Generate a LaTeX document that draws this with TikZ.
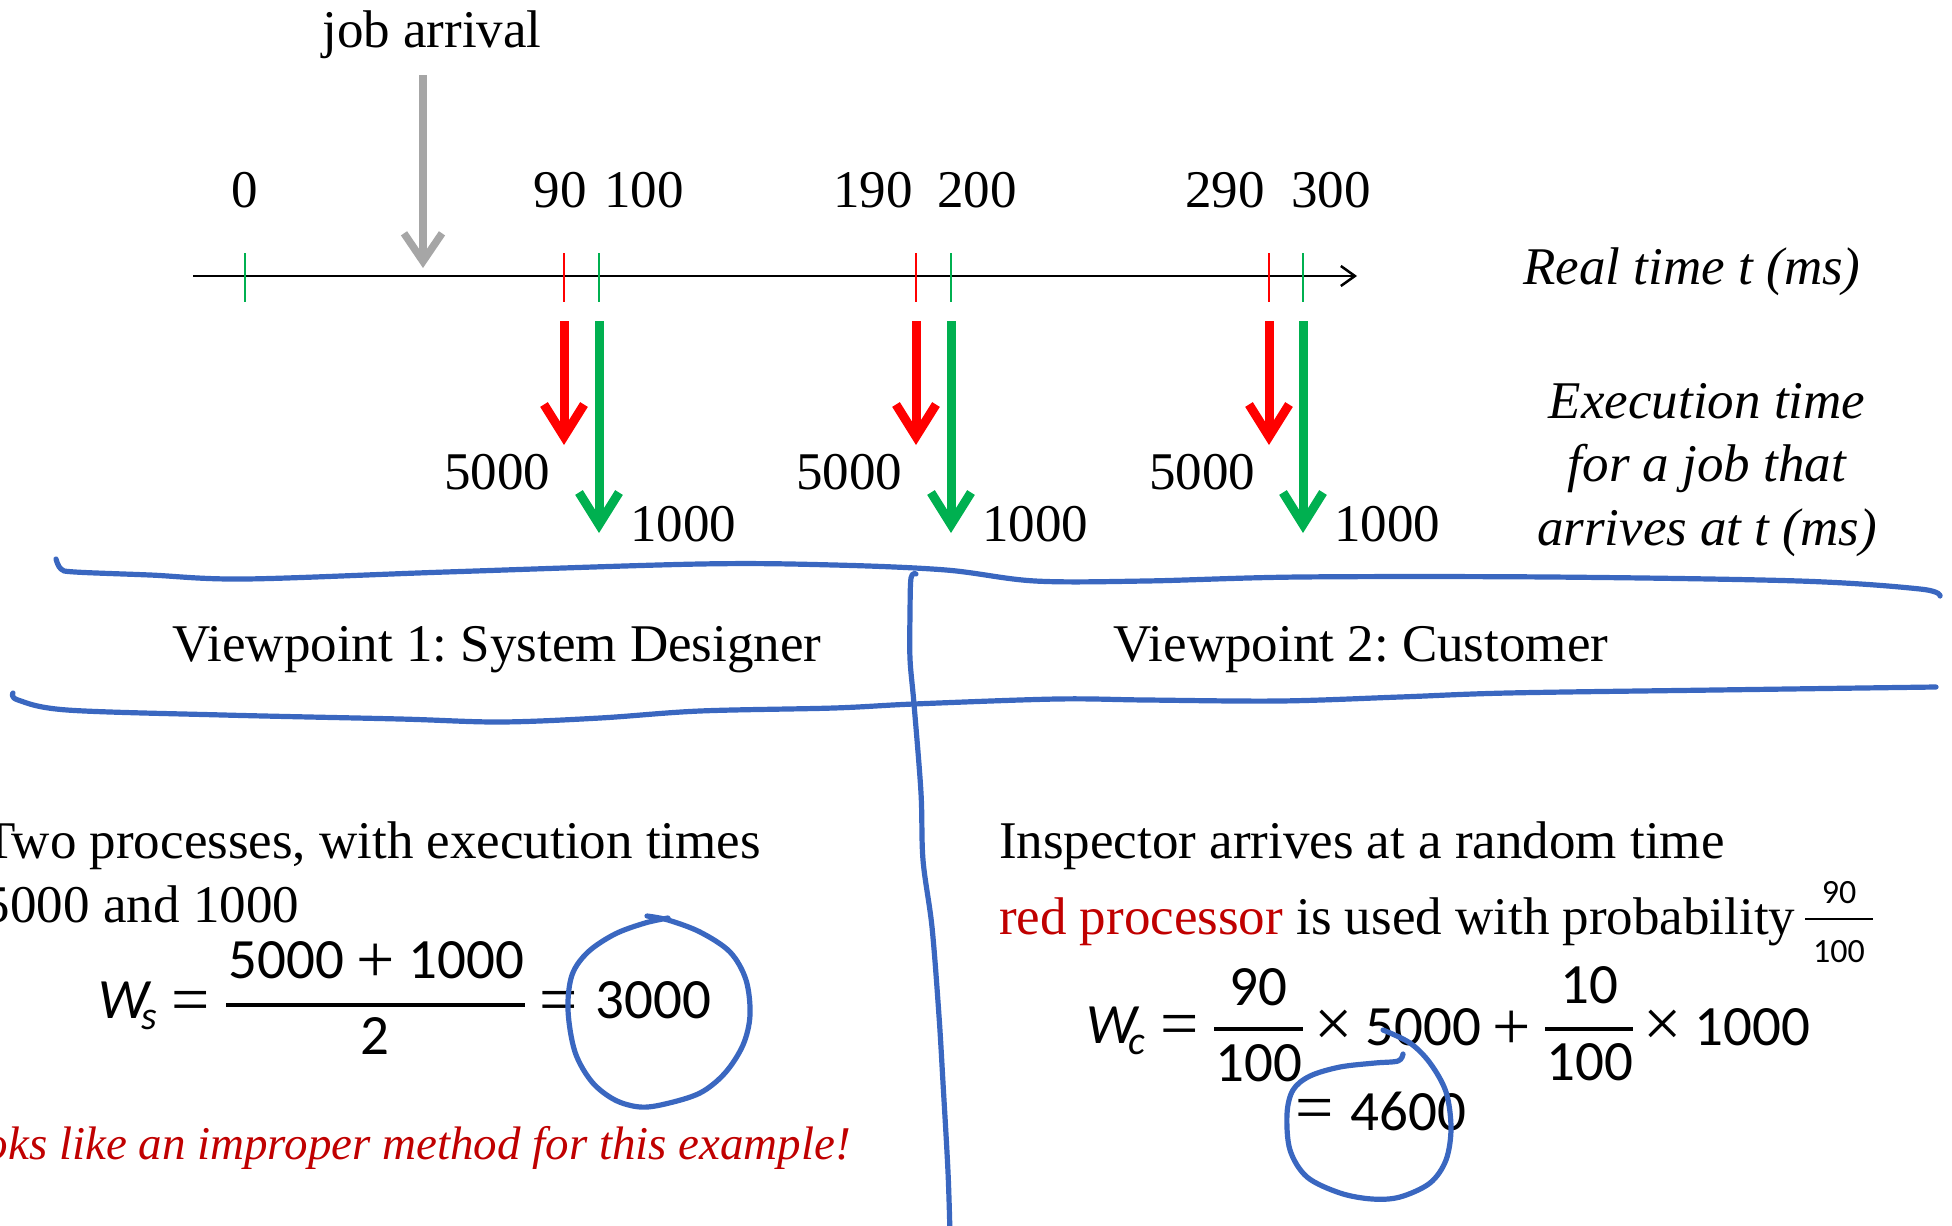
\documentclass[tikz,border=0pt]{standalone}
\usepackage{fontspec}
\setmainfont{Liberation Serif}
\newfontfamily\eqfont{Carlito}
\usetikzlibrary{arrows.meta}
\frenchspacing

\definecolor{penblue}{HTML}{3A67C0}
\definecolor{darkred}{HTML}{C00000}
\definecolor{procred}{HTML}{FF0000}
\definecolor{procgreen}{HTML}{00B050}
\definecolor{arrowgray}{HTML}{A6A6A6}

\tikzset{
  txt/.style={inner sep=0pt, outer sep=0pt, font=\fontsize{26.5pt}{31pt}\selectfont},
  itxt/.style={inner sep=0pt, outer sep=0pt, font=\fontsize{26.5pt}{31pt}\selectfont\itshape},
  redtxt/.style={inner sep=0pt, outer sep=0pt, darkred, font=\fontsize{23.5pt}{28pt}\selectfont\itshape},
  eqnum/.style={inner sep=0pt, outer sep=0pt, font=\eqfont\fontsize{28.5pt}{33pt}\selectfont},
  eqvar/.style={inner sep=0pt, outer sep=0pt, font=\eqfont\fontsize{28.5pt}{33pt}\selectfont\itshape},
  eqsub/.style={inner sep=0pt, outer sep=0pt, font=\eqfont\fontsize{20pt}{24pt}\selectfont\itshape},
  eqsmall/.style={inner sep=0pt, outer sep=0pt, font=\eqfont\fontsize{17pt}{20pt}\selectfont},
  eqop/.style={inner sep=0pt, outer sep=0pt, font=\fontsize{34pt}{40pt}\selectfont},
  fracbar/.style={line width=1.75pt},
  tmark/.style={line width=1pt},
  exec/.style={line width=4.5pt, -{Straight Barb[length=16pt,width=20pt]}},
  ink/.style={penblue, line width=2.6pt, line cap=round, line join=round},
}

\begin{document}
\begin{tikzpicture}[x=0.5pt, y=-0.5pt]
\useasboundingbox (0,0) rectangle (1952,1225);
\clip (0,0) rectangle (1952,1225);

% ---------- time axis ----------
\coordinate (axisL) at (193,276);
\coordinate (axisR) at (1357,276);
\draw[line width=1.25pt, -{Straight Barb[length=7pt,width=10pt]}] (axisL) -- (axisR);

\node[txt, anchor=base] (arrlbl) at (432,48) {job arrival};
\coordinate (arrTop) at (423,75);
\coordinate (arrTip) at (423,268);
\draw[arrowgray, line width=3.75pt, -{Straight Barb[length=14pt,width=19pt]}] (arrTop) -- (arrTip);

\draw[procgreen, tmark] (245,253) -- (245,302);
\node[txt, anchor=base] (t0) at (245,207) {0};

\foreach \i/\r/\g/\rl/\gl/\rx/\gx in
  {1/564/599/90/100/560/644, 2/916/951/190/200/873/977, 3/1269/1303/290/300/1225/1331} {
  \draw[procred, tmark] (\r,253) -- (\r,302);
  \draw[procgreen, tmark] (\g,253) -- (\g,302);
  \node[txt, anchor=base] (rl\i) at (\rx,207) {\rl};
  \node[txt, anchor=base] (gl\i) at (\gx,207) {\gl};
  \coordinate (rs\i) at (\r,321);
  \coordinate (re\i) at (\r,445);
  \coordinate (gs\i) at (\g,321);
  \coordinate (ge\i) at (\g,533);
  \draw[procred, exec] (rs\i) -- (re\i);
  \draw[procgreen, exec] (gs\i) -- (ge\i);
  \node[txt, anchor=base] (rv\i) at (\r-67,489) {5000};
  \node[txt, anchor=base] (gv\i) at (\g+84,541) {1000};
}

\node[itxt, anchor=base] (realt) at (1692,284) {Real time t (ms)};
\node[itxt, anchor=base] (exec1) at (1707,418) {Execution time};
\node[itxt, anchor=base] (exec2) at (1707,481) {for a job that};
\node[itxt, anchor=base] (exec3) at (1707,545) {arrives at t (ms)};

% ---------- headings ----------
\node[txt, anchor=base] (vp1) at (497,661) {Viewpoint 1: System Designer};
\node[txt, anchor=base] (vp2) at (1361,661) {Viewpoint 2: Customer};

% ---------- left column ----------
\node[txt, anchor=base east] (l1) at (761,858) {Two processes, with execution times};
\node[txt, anchor=base east] (l2) at (299,922) {5000 and 1000};

\node[eqvar, anchor=base west] (ws) at (98,1018) {W};
\node[eqsub, anchor=base west] (wss) at (141,1029) {s};
\node[eqop, anchor=base] (eqA) at (191,1022) {=};
\node[eqnum, anchor=base east] (nA) at (344,978) {5000};
\node[eqop, anchor=base] (plA) at (376,982) {+};
\node[eqnum, anchor=base east] (nB) at (524,978) {1000};
\draw[fracbar] (226,1005) -- (525,1005);
\node[eqnum, anchor=base] (dA) at (375,1054) {2};
\node[eqop, anchor=base] (eqB) at (559,1022) {=};
\node[eqnum, anchor=base east] (res1) at (711,1018) {3000};

\node[redtxt, anchor=base east] (warn) at (851,1159) {Looks like an improper method for this example!};

% ---------- right column ----------
\node[txt, anchor=base west] (r1) at (999,858) {Inspector arrives at a random time};
\node[txt, anchor=base west] (r2) at (999,934) {\textcolor{darkred}{red processor} is used with probability};
\draw[line width=1.25pt] (1805,919) -- (1873,919);
\node[eqsmall, anchor=base] (pn) at (1839,903) {90};
\node[eqsmall, anchor=base] (pd) at (1839,962) {100};

\node[eqvar, anchor=base west] (wc) at (1086,1043) {W};
\node[eqsub, anchor=base west] (wcs) at (1128,1054) {c};
\node[eqop, anchor=base] (eqC) at (1180,1046) {=};
\draw[fracbar] (1214,1029) -- (1303,1029);
\node[eqnum, anchor=base] (f1n) at (1258,1005) {90};
\node[eqnum, anchor=base] (f1d) at (1259,1081) {100};
\node[eqop, anchor=base] (tm1) at (1334,1046) {×};
\node[eqnum, anchor=base east] (v1) at (1481,1045) {5000};
\node[eqop, anchor=base] (plC) at (1512,1049) {+};
\draw[fracbar] (1545,1029) -- (1633,1029);
\node[eqnum, anchor=base] (f2n) at (1589,1003) {10};
\node[eqnum, anchor=base] (f2d) at (1590,1080) {100};
\node[eqop, anchor=base] (tm2) at (1663,1046) {×};
\node[eqnum, anchor=base east] (v2) at (1810,1045) {1000};
\node[eqop, anchor=base] (eqD) at (1315,1130) {=};
\node[eqnum, anchor=base east] (res2) at (1466,1130) {4600};

% ---------- pen strokes ----------
\draw[ink] plot[smooth, tension=0.55] coordinates {
  (56,559) (61,569) (75,572) (150,575) (245,579) (446,572) (700,564) (834,565)
  (946,570) (1035,581) (1146,581) (1300,577) (1549,577) (1799,581) (1920,589) (1940,596)};
\draw[ink] plot[smooth, tension=0.55] coordinates {
  (13,693) (18,700) (67,710) (223,715) (400,719) (500,722) (600,718) (700,711)
  (834,708) (914,704) (1057,699) (1146,700) (1280,701) (1400,697) (1508,693)
  (1716,690) (1936,687)};
\draw[ink] plot[smooth, tension=0.55] coordinates {
  (916,574) (911,578) (910,614) (910,659) (914,704) (921,793) (923,860)
  (932,927) (939,1016) (943,1083) (948,1172) (950,1235)};
\draw[ink] plot[smooth, tension=0.55] coordinates {
  (647,916) (668,920) (700,932) (730,952) (746,980) (750,1015) (743,1045)
  (725,1073) (700,1093) (665,1104) (640,1107) (615,1100) (592,1082) (575,1052)
  (568,1010) (572,975) (588,952) (615,934) (645,923) (668,918)};
\draw[ink] plot[smooth, tension=0.55] coordinates {
  (1383,1030) (1410,1043) (1430,1063) (1446,1092) (1451,1128) (1446,1160)
  (1430,1183) (1400,1197) (1372,1199) (1340,1193) (1307,1177) (1290,1150)
  (1287,1114) (1293,1090) (1310,1076) (1340,1067) (1375,1063) (1398,1061) (1403,1054)};
\end{tikzpicture}
\end{document}
